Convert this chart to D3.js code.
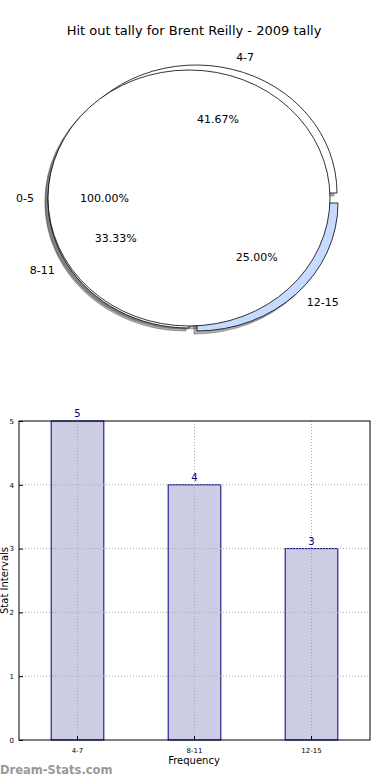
<!DOCTYPE html>
<html>
<head>
<meta charset="UTF-8">
<title>Hit out tally</title>
<script src="https://cdnjs.cloudflare.com/ajax/libs/d3/7.9.0/d3.min.js"></script>
<style>
    body { margin: 0; background: #fff; }
    svg { display: block; font-family: "DejaVu Sans", sans-serif; }
</style>
</head>
<body>
<div id="chart"></div>
<script>
    // ---- data ----
    const title = "Hit out tally for Brent Reilly - 2009 tally";
    const pieLabels = ["0-5", "4-7", "8-11", "12-15"];
    const pieFractions = [1.0, 0.4167, 0.3333, 0.25];   // as printed on the chart
    const pieColors = ["#ffffff", "#ffffff", "#ffffff", "#c6dbff"];
    const pieExplode = [[0, 0], [7, -5], [0, 2], [8, 5]]; // px offset of each wedge

    const barCategories = ["4-7", "8-11", "12-15"];
    const barValues = [5, 4, 3];
    const yTicks = [0, 1, 2, 3, 4, 5];

    const W = 390, H = 780;
    const svg = d3.select("#chart").append("svg")
        .attr("width", W).attr("height", H);

    // ---- title ----
    svg.append("text")
        .attr("x", 194).attr("y", 35)
        .attr("text-anchor", "middle")
        .attr("font-size", 13)
        .text(title);

    // ---- pie ----
    const cx = 189, cy = 198, rx = 141, ry = 128;
    const unitArc = d3.arc().innerRadius(0).outerRadius(1);
    const pieG = svg.append("g");

    // matplotlib-like angles: 0 = east, counter clockwise
    let acc = 0;
    const wedges = pieFractions.map((f, i) => {
        const t1 = acc * 2 * Math.PI, t2 = (acc + f) * 2 * Math.PI;
        acc += f;
        return {label: pieLabels[i], frac: f, t1, t2, tm: (t1 + t2) / 2,
                color: pieColors[i], dx: pieExplode[i][0], dy: pieExplode[i][1]};
    });

    function wedgePath(w) {
        return unitArc({startAngle: Math.PI / 2 - w.t2, endAngle: Math.PI / 2 - w.t1});
    }
    function place(w, sx, sy) {
        return `translate(${cx + w.dx + sx},${cy + w.dy + sy}) scale(${rx},${ry})`;
    }

    // shadows first
    wedges.forEach(w => {
        pieG.append("path")
            .attr("d", wedgePath(w))
            .attr("transform", place(w, -3, 3))
            .attr("fill", "#4d4d4d").attr("fill-opacity", 0.45)
            .attr("stroke", "#4d4d4d").attr("stroke-opacity", 0.45)
            .attr("stroke-width", 1)
            .attr("vector-effect", "non-scaling-stroke");
    });
    // exploded wedges, then the full 0-5 wedge on top
    const order = [1, 2, 3, 0];
    order.forEach(i => {
        const w = wedges[i];
        pieG.append("path")
            .attr("d", wedgePath(w))
            .attr("transform", place(w, 0, 0))
            .attr("fill", w.color)
            .attr("stroke", "#000").attr("stroke-width", 0.8)
            .attr("stroke-linejoin", "miter")
            .attr("vector-effect", "non-scaling-stroke");
    });

    // labels
    wedges.forEach(w => {
        const c = Math.cos(w.tm), s = Math.sin(w.tm);
        pieG.append("text")
            .attr("x", cx + w.dx + 1.1 * rx * c)
            .attr("y", cy + w.dy - 1.1 * ry * s)
            .attr("dy", "0.35em")
            .attr("text-anchor", c > 0 ? "start" : "end")
            .attr("font-size", 11)
            .text(w.label);
        pieG.append("text")
            .attr("x", cx + w.dx + 0.6 * rx * c)
            .attr("y", cy + w.dy - 0.6 * ry * s)
            .attr("dy", "0.35em")
            .attr("text-anchor", "middle")
            .attr("font-size", 11)
            .text((w.frac * 100).toFixed(2) + "%");
    });

    // ---- bar chart ----
    const m = {left: 19, right: 370, top: 421, bottom: 740};
    const x = d3.scaleBand().domain(barCategories)
        .range([m.left, m.right]).paddingInner(0).paddingOuter(0);
    const barW = x.bandwidth() * 0.45;
    const y = d3.scaleLinear().domain([0, 5]).range([m.bottom, m.top]);
    const g = svg.append("g");

    g.selectAll("rect.bar").data(barValues).enter().append("rect")
        .attr("class", "bar")
        .attr("x", (d, i) => x(barCategories[i]) + x.bandwidth() / 2 - barW / 2)
        .attr("y", d => y(d))
        .attr("width", barW)
        .attr("height", d => y(0) - y(d))
        .attr("fill", "#ccccE5")
        .attr("stroke", "#000080").attr("stroke-width", 1);

    // grid
    g.selectAll("line.hgrid").data(yTicks.slice(1, -1)).enter().append("line")
        .attr("x1", m.left).attr("x2", m.right)
        .attr("y1", d => y(d)).attr("y2", d => y(d))
        .attr("stroke", "#aaa").attr("stroke-width", 1)
        .attr("stroke-dasharray", "1,2");
    g.selectAll("line.vgrid").data(barCategories).enter().append("line")
        .attr("x1", d => x(d) + x.bandwidth() / 2).attr("x2", d => x(d) + x.bandwidth() / 2)
        .attr("y1", m.top).attr("y2", m.bottom)
        .attr("stroke", "#aaa").attr("stroke-width", 1)
        .attr("stroke-dasharray", "1,2");

    // axes
    const yAxis = d3.axisLeft(y).tickValues(yTicks).tickFormat(d3.format("d"))
        .tickSizeInner(-4).tickSizeOuter(0).tickPadding(5);
    const xAxis = d3.axisBottom(x).tickSizeInner(-4).tickSizeOuter(0).tickPadding(8);
    g.append("g").attr("transform", `translate(${m.left},0)`).call(yAxis)
        .call(a => a.select(".domain").remove())
        .selectAll("text").attr("font-size", 7).attr("font-family", "DejaVu Sans");
    g.append("g").attr("transform", `translate(0,${m.bottom})`).call(xAxis)
        .call(a => a.select(".domain").remove())
        .selectAll("text").attr("font-size", 7).attr("font-family", "DejaVu Sans");

    g.append("rect")
        .attr("x", m.left).attr("y", m.top)
        .attr("width", m.right - m.left).attr("height", m.bottom - m.top)
        .attr("fill", "none").attr("stroke", "#000").attr("stroke-width", 1);

    // value labels
    g.selectAll("text.val").data(barValues).enter().append("text")
        .attr("x", (d, i) => x(barCategories[i]) + x.bandwidth() / 2)
        .attr("y", d => y(d) - 4)
        .attr("text-anchor", "middle")
        .attr("font-size", 10)
        .attr("fill", "#00008b")
        .text(d => d);

    // axis titles
    svg.append("text")
        .attr("x", 194).attr("y", 764)
        .attr("text-anchor", "middle").attr("font-size", 10)
        .text("Frequency");
    svg.append("text")
        .attr("transform", `translate(8,${(m.top + m.bottom) / 2}) rotate(-90)`)
        .attr("text-anchor", "middle").attr("font-size", 10)
        .text("Stat Intervals");

    // watermark
    svg.append("text")
        .attr("x", 0).attr("y", 774)
        .attr("font-size", 11.5).attr("font-weight", "bold")
        .attr("fill", "#999")
        .text("Dream-Stats.com");
</script>
</body>
</html>
